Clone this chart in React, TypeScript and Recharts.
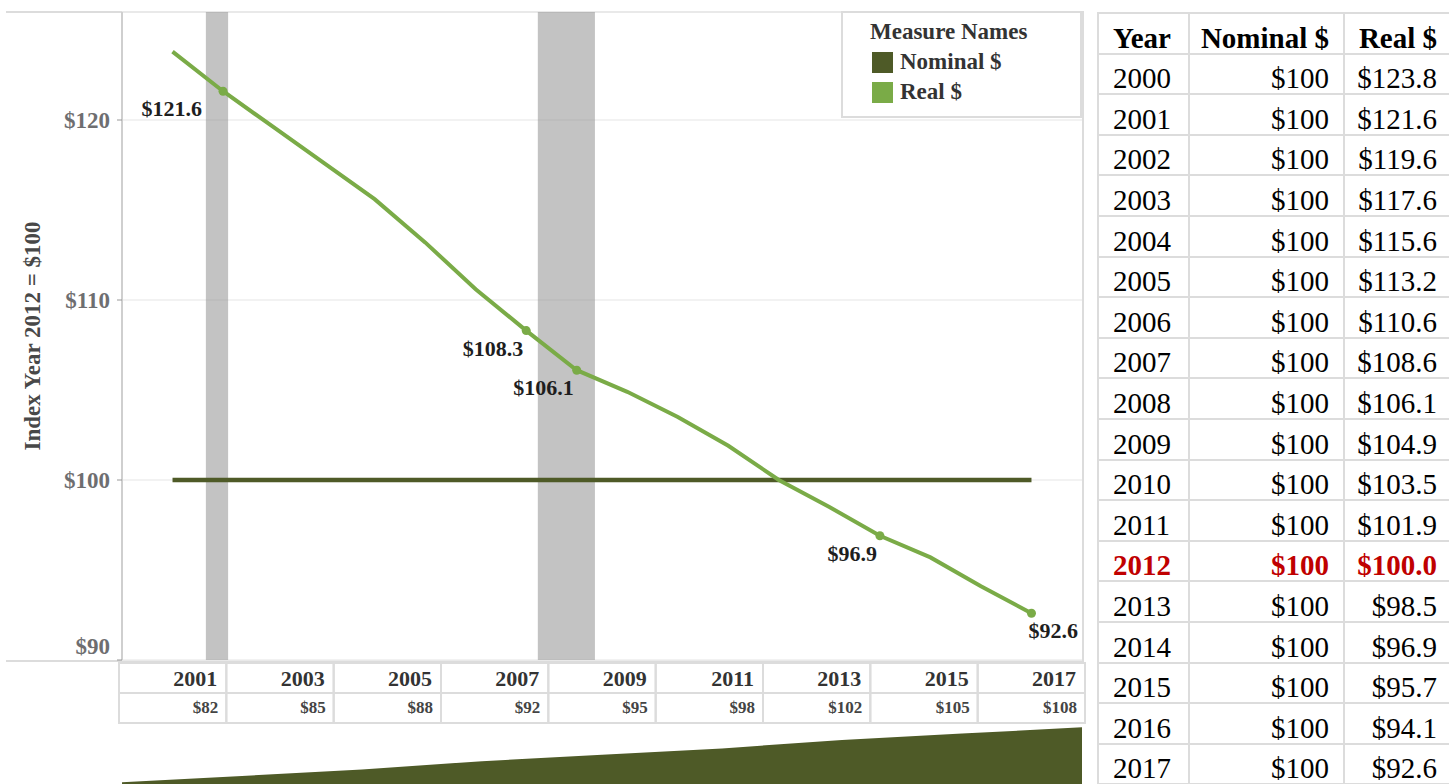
import {
  LineChart, Line, XAxis, YAxis, CartesianGrid, ReferenceArea, LabelList, Label,
  ComposedChart, Area,
} from "recharts";

const years = [2000, 2001, 2002, 2003, 2004, 2005, 2006, 2007, 2008, 2009, 2010, 2011, 2012, 2013, 2014, 2015, 2016, 2017];
const nominalValues = [100, 100, 100, 100, 100, 100, 100, 100, 100, 100, 100, 100, 100, 100, 100, 100, 100, 100];
const realLineValues = [123.8, 121.6, 119.6, 117.6, 115.6, 113.2, 110.6, 108.3, 106.1, 104.9, 103.5, 101.9, 100.0, 98.5, 96.9, 95.7, 94.1, 92.6];
const realTableValues = [123.8, 121.6, 119.6, 117.6, 115.6, 113.2, 110.6, 108.6, 106.1, 104.9, 103.5, 101.9, 100.0, 98.5, 96.9, 95.7, 94.1, 92.6];
const labeledYears = [2001, 2007, 2008, 2014, 2017];
const highlightYear = 2012;

const recessionStart = [2000.66, 2007.23];
const recessionEnd = [2001.1, 2008.36];

const yTicks = [90, 100, 110, 120];
const yDomain = [90, 126];

const headerYears = ["2001", "2003", "2005", "2007", "2009", "2011", "2013", "2015", "2017"];
const headerDollars = [82, 85, 88, 92, 95, 98, 102, 105, 108];

const FONT = "'Liberation Serif', 'Times New Roman', serif";
const REAL = "#7aab47";
const NOMINAL = "#4e5a27";
const BORDER = "#dcdcdc";

const data = years.map((year, i) => ({ year, nominal: nominalValues[i], real: realLineValues[i] }));
const headerData = headerYears.map((label, i) => ({ label, dollars: headerDollars[i] }));

function YTick(props: any) {
  const { x, y, payload } = props;
  const shift = payload.value === yDomain[0] ? -14 : 0;
  return (
    <text x={x - 5} y={y + shift} dy="0.35em" textAnchor="end" fontFamily={FONT} fontWeight="bold" fontSize={23} fill="#6e6e70">
      ${payload.value}
    </text>
  );
}

function YTitle(props: any) {
  const vb = props.viewBox || { x: 0, y: 12, width: 122, height: 648 };
  const cx = vb.x + 32;
  const cy = vb.y + vb.height / 2;
  return (
    <text x={cx} y={cy} transform={`rotate(-90 ${cx} ${cy})`} textAnchor="middle" dominantBaseline="central"
      fontFamily={FONT} fontWeight="bold" fontSize={23} fill="#484848">
      Index Year 2012 = $100
    </text>
  );
}

function PointLabel(props: any) {
  const { x, y, value, index } = props;
  const year = years[index];
  if (!labeledYears.includes(year)) return null;
  let anchor = "end";
  let dx = -3;
  if (year === 2001) dx = -21;
  if (year === 2017) { anchor = "start"; dx = -3; }
  return (
    <text x={x + dx} y={y + 25} textAnchor={anchor} fontFamily={FONT} fontWeight="bold" fontSize={22} fill="#1e1e1e">
      ${Number(value).toFixed(1)}
    </text>
  );
}

function RealDot(props: any) {
  const { cx, cy, payload, index } = props;
  if (!labeledYears.includes(payload.year)) return <g key={index} />;
  return <circle key={index} cx={cx} cy={cy} r={4.5} fill={REAL} />;
}

function HeaderCell(props: any) {
  const { x, payload, index } = props;
  const half = payload && payload.offset ? payload.offset : 53.7;
  const left = x - half;
  const right = x + half;
  return (
    <g>
      <rect x={left} y={1} width={2 * half} height={60} fill="none" stroke={BORDER} strokeWidth={2} />
      <line x1={left} x2={right} y1={31} y2={31} stroke={BORDER} strokeWidth={2} />
      <text x={right - 9} y={24} textAnchor="end" fontFamily={FONT} fontWeight="bold" fontSize={22} fill="#333">
        {payload.value}
      </text>
      <text x={right - 8} y={51} textAnchor="end" fontFamily={FONT} fontWeight="bold" fontSize={17} fill="#444">
        ${headerDollars[index]}
      </text>
    </g>
  );
}

function LegendBox() {
  const items = [
    { name: "Nominal $", color: NOMINAL },
    { name: "Real $", color: REAL },
  ];
  return (
    <div style={{
      position: "absolute", left: 841, top: 11, width: 241, height: 107, boxSizing: "border-box",
      border: `2px solid ${BORDER}`, background: "#fff", fontFamily: FONT, fontWeight: "bold", color: "#333",
    }}>
      <div style={{ position: "absolute", left: 27, top: 4, fontSize: 23, lineHeight: "30px" }}>Measure Names</div>
      {items.map((it, i) => (
        <div key={it.name} style={{ position: "absolute", left: 29, top: 34 + i * 30, display: "flex", alignItems: "center" }}>
          <div style={{ width: 21, height: 21, background: it.color }} />
          <div style={{ marginLeft: 7, fontSize: 23, lineHeight: "30px" }}>{it.name}</div>
        </div>
      ))}
    </div>
  );
}

function DataTable() {
  const widths = [91, 155, 108];
  const rowH = 40.6;
  const cell = (w: number, align: string, pad: number, content: any, style: any, key: string) => (
    <div key={key} style={{
      width: w, height: rowH, boxSizing: "border-box", borderRight: `2px solid ${BORDER}`, borderBottom: `2px solid ${BORDER}`,
      display: "flex", alignItems: "flex-end", justifyContent: align,
      paddingLeft: align === "flex-start" ? pad : 0, paddingRight: align === "flex-end" ? pad : 0,
      lineHeight: "29px", fontSize: 29, ...style,
    }}>{content}</div>
  );
  return (
    <div style={{
      position: "absolute", left: 1097, top: 12, width: 360, borderTop: `2px solid ${BORDER}`, borderLeft: `2px solid ${BORDER}`,
      fontFamily: FONT, color: "#000",
    }}>
      <div style={{ display: "flex" }}>
        {cell(widths[0], "flex-start", 14, "Year", { fontWeight: "bold" }, "h0")}
        {cell(widths[1], "flex-end", 14, "Nominal $", { fontWeight: "bold" }, "h1")}
        {cell(widths[2], "flex-end", 14, "Real $", { fontWeight: "bold" }, "h2")}
      </div>
      {years.map((yr, i) => {
        const hl = yr === highlightYear;
        const st = hl ? { fontWeight: "bold", color: "#c00000" } : {};
        return (
          <div key={yr} style={{ display: "flex" }}>
            {cell(widths[0], "flex-start", 14, String(yr), st, "a")}
            {cell(widths[1], "flex-end", 14, `$${nominalValues[i]}`, st, "b")}
            {cell(widths[2], "flex-end", 14, `$${realTableValues[i].toFixed(1)}`, st, "c")}
          </div>
        );
      })}
    </div>
  );
}

export default function App() {
  return (
    <div style={{ position: "absolute", left: 0, top: 0, width: 1449, height: 784, overflow: "hidden", background: "#fff" }}>
      <div style={{
        position: "absolute", left: 6, top: 11, width: 1078, height: 651, boxSizing: "border-box",
        borderTop: `2px solid ${BORDER}`, borderBottom: `2px solid ${BORDER}`, borderRight: `2px solid ${BORDER}`,
      }} />
      <div style={{ position: "absolute", left: 0, top: 0 }}>
        <LineChart width={1090} height={665} data={data} margin={{ top: 12, right: 8, bottom: 5, left: 0 }}>
          <CartesianGrid vertical={false} stroke="#eeeeee" strokeWidth={1.5} />
          <XAxis dataKey="year" type="number" domain={[1999, 2018]} hide />
          <YAxis
            type="number" domain={yDomain} ticks={yTicks} width={122} interval={0}
            axisLine={{ stroke: "#cfcfcf", strokeWidth: 2 }} tickLine={{ stroke: "#999" }} tickSize={5}
            tick={<YTick />}
          >
            <Label content={<YTitle />} />
          </YAxis>
          {recessionStart.map((s, i) => (
            <ReferenceArea key={s} x1={s} x2={recessionEnd[i]} fill="#8c8c8c" fillOpacity={0.52} stroke="none" />
          ))}
          <Line dataKey="nominal" stroke={NOMINAL} strokeWidth={4.5} dot={false} isAnimationActive={false} />
          <Line dataKey="real" stroke={REAL} strokeWidth={4} dot={<RealDot />} activeDot={false} isAnimationActive={false}>
            <LabelList dataKey="real" content={<PointLabel />} />
          </Line>
        </LineChart>
      </div>
      <LegendBox />
      <div style={{ position: "absolute", left: 0, top: 662 }}>
        <ComposedChart width={1090} height={294} data={headerData} margin={{ top: 0, right: 5, bottom: 0, left: 119 }}>
          <XAxis xAxisId="hdr" dataKey="label" type="category" scale="band" orientation="top" height={61}
            interval={0} axisLine={false} tickLine={false} tick={<HeaderCell />} />
          <XAxis xAxisId="pts" dataKey="label" type="category" scale="point" hide padding={{ left: 3, right: 3 }} />
          <YAxis domain={[0, 110]} hide />
          <Area xAxisId="pts" dataKey="dollars" type="linear" fill={NOMINAL} fillOpacity={1} stroke="none" isAnimationActive={false} />
        </ComposedChart>
      </div>
      <DataTable />
    </div>
  );
}
